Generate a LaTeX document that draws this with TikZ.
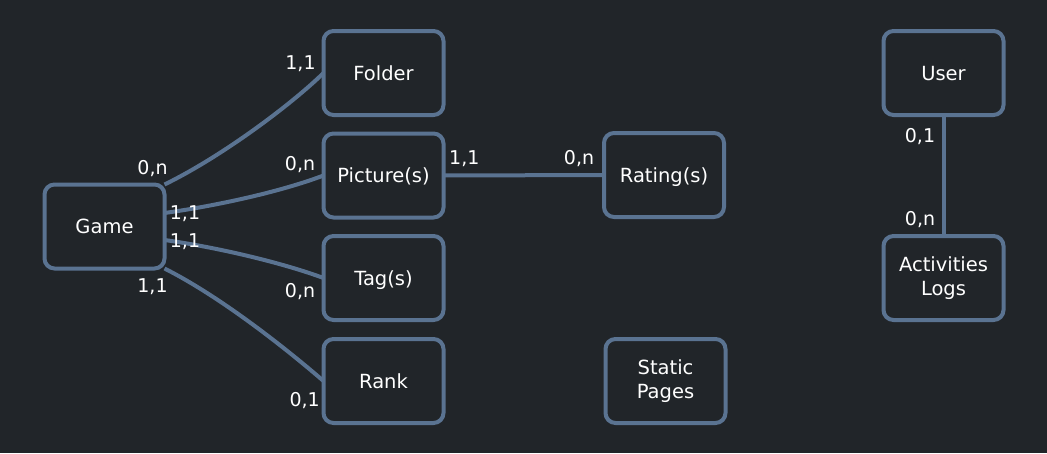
\documentclass[tikz,border=0pt]{standalone}
\usepackage{fontspec}
\setmainfont{DejaVu Sans}
\usetikzlibrary{backgrounds,positioning}
\definecolor{pagebg}{HTML}{212529}
\definecolor{slate}{HTML}{5A7391}
\pgfdeclarelayer{edges}
\pgfsetlayers{background,edges,main}

\begin{document}
\begin{tikzpicture}[x=1pt,y=-1pt,
  entity/.style={draw=slate,fill=pagebg,line width=4pt,rounded corners=10pt,
    minimum width=120pt,minimum height=84pt,inner sep=0pt,outer sep=0pt,
    text=white,font=\fontsize{19.5}{24.5}\selectfont,align=center},
  single/.style={text height=14pt,text depth=0pt},
  link/.style={draw=slate,line width=4pt},
  card/.style={text=white,font=\fontsize{19}{23}\selectfont,inner sep=0pt,anchor=base}]
% Page outline
  \useasboundingbox (0,0) rectangle (1047,453);
  \begin{pgfonlayer}{background}
    \fill[pagebg] (0,0) rectangle (1047,453);
  \end{pgfonlayer}

% Game and its entities
  \node[entity,single] (game) at (104.5,226.5) {Game};
  \node[entity,single] (folder) at (383.5,73) {Folder};
  \node[entity,single] (picture) at (383.5,175.5) {Picture(s)};
  \node[entity,single] (tag) at (383.5,278) {Tag(s)};
  \node[entity,single] (rank) at (383.5,381) {Rank};
% Rating and static pages
  \node[entity,single] (rating) at (664,175) {Rating(s)};
  \node[entity] (static) at (665.5,381) {Static\\Pages};
% User and logs
  \node[entity,single] (user) at (943.5,73) {User};
  \node[entity] (logs) at (943.5,278) {Activities\\Logs};

% Links (under the boxes)
  \begin{pgfonlayer}{edges}
    \draw[link] (game.north east) .. controls (223,156) and (293,103) .. (folder.west);
    \draw[link] ([yshift=13.5pt]game.east) .. controls (215,206) and (280,192) .. (picture.west);
    \draw[link] ([yshift=-13.5pt]game.east) .. controls (215,247) and (280,262) .. (tag.west);
    \draw[link] (game.south east) .. controls (223,298) and (290,352) .. (rank.west);
    \draw[link] (picture.east) -- (rating.west);
    \draw[link] (user.south) -- (logs.north);
  \end{pgfonlayer}

% Cardinalities Game side
  \node[card] (gfolder) at (152.5,174.5) {0,n};
  \node[card] (gpicture) at (185,219.5) {1,1};
  \node[card] (gtag) at (185,247) {1,1};
  \node[card] (grank) at (152.5,292.5) {1,1};
% Cardinalities far side
  \node[card] (cfolder) at (300.5,69.3) {1,1};
  \node[card] (cpicture) at (300,170.3) {0,n};
  \node[card] (ctag) at (300,297) {0,n};
  \node[card] (crank) at (304.7,406.5) {0,1};
% Picture / rating
  \node[card] (prating) at (464.3,164.3) {1,1};
  \node[card] (rpicture) at (579,164.3) {0,n};
% User / logs
  \node[card] (ulogs) at (920,142.5) {0,1};
  \node[card] (luser) at (920,225) {0,n};
\end{tikzpicture}
\end{document}
